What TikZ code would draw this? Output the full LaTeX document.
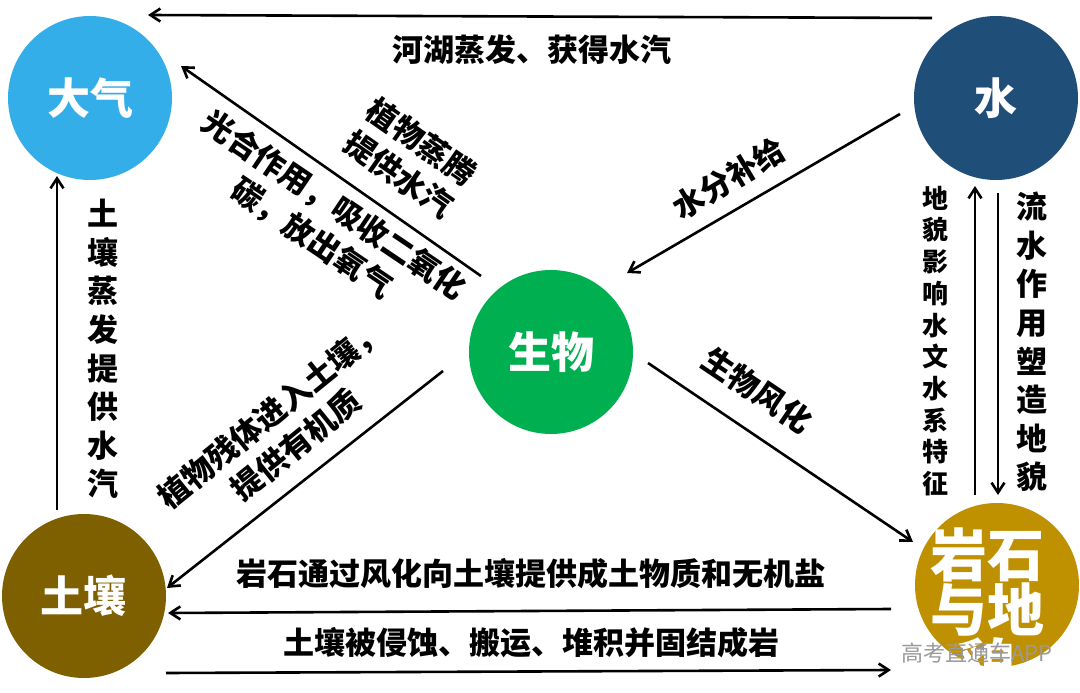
\documentclass[tikz,border=0pt]{standalone}
\usepackage{fontspec}
\setmainfont{Noto Sans CJK SC}
\usetikzlibrary{arrows.meta}
\definecolor{atmc}{HTML}{33AEE8}
\definecolor{watc}{HTML}{1F4E79}
\definecolor{bioc}{HTML}{00B050}
\definecolor{soilc}{HTML}{7F6000}
\definecolor{rockc}{HTML}{BF9000}
\definecolor{wmc}{HTML}{9A9A9A}
\begin{document}
\begin{tikzpicture}[x=1pt,y=-1pt,
  circ/.style={circle,minimum size=164pt,inner sep=0pt,text=white,font=\bfseries\fontsize{43}{50}\selectfont},
  arr/.style={line width=2.6pt,-{Straight Barb[length=10pt,width=13pt]}},
  lbl/.style={font=\bfseries\fontsize{31}{40}\selectfont,inner sep=0pt,align=center},
  vlbl/.style={font=\bfseries\fontsize{31}{38.6}\selectfont,inner sep=0pt,align=center},
  vlbls/.style={font=\bfseries\fontsize{26}{31.7}\selectfont,inner sep=0pt,align=center},
  wm/.style={font=\fontsize{22}{24}\selectfont,text=wmc,inner sep=0pt}]
\useasboundingbox (0,0) rectangle (1080,693);
\fill[white] (0,0) rectangle (1080,693);

% circles
\node[circ,fill=atmc] (atm) at (90,98) {大气};
\node[circ,fill=watc] (wat) at (996,98) {水};
\node[circ,fill=bioc] (bio) at (551,352) {生物};
\node[circ,fill=soilc] (soil) at (84,596) {土壤};
\node[circ,fill=rockc] (rock) at (997,585) {};
\node[font=\bfseries\fontsize{57}{53}\selectfont,text=white,align=center,inner sep=0pt] (rockt) at (987,610) {岩石\\与地\\貌};

% connector end points
\coordinate (a1s) at (932,18);   \coordinate (a1e) at (148,15);
\coordinate (a2s) at (481,276);  \coordinate (a2e) at (181,66);
\coordinate (a3s) at (900,114);  \coordinate (a3e) at (627,273);
\coordinate (a4s) at (648,363);  \coordinate (a4e) at (913,542);
\coordinate (a5s) at (443,371);  \coordinate (a5e) at (167,588);
\coordinate (a6s) at (57,510);   \coordinate (a6e) at (57,176);
\coordinate (a7s) at (975,495);  \coordinate (a7e) at (975,186);
\coordinate (a8s) at (998,193);  \coordinate (a8e) at (998,495);
\coordinate (a9s) at (891,609);  \coordinate (a9e) at (168,613);
\coordinate (a10s) at (166,673); \coordinate (a10e) at (891,670);

\draw[arr] (a1s) -- (a1e);
\draw[arr] (a2s) -- (a2e);
\draw[arr] (a3s) -- (a3e);
\draw[arr] (a4s) -- (a4e);
\draw[arr] (a5s) -- (a5e);
\draw[arr] (a6s) -- (a6e);
\draw[arr] (a7s) -- (a7e);
\draw[arr] (a8s) -- (a8e);
\draw[arr] (a9s) -- (a9e);
\draw[arr] (a10s) -- (a10e);

% labels
\node[lbl] (l1) at (532,50) {河湖蒸发、获得水汽};
\node[lbl,rotate=-35] (l2) at (410,158) {植物蒸腾\\提供水汽};
\node[lbl,rotate=-34] (l3) at (323,222) {光合作用，吸收二氧化\\碳，放出氧气};
\node[lbl,rotate=31] (l4) at (729,178) {水分补给};
\node[lbl,rotate=-34] (l5) at (757,390) {生物风化};
\node[lbl,rotate=39] (l6) at (283,429) {植物残体进入土壤，\\提供有机质};
\node[vlbl] (l7) at (103,349) {土\\壤\\蒸\\发\\提\\供\\水\\汽};
\node[vlbls] (l8) at (935,341) {地\\貌\\影\\响\\水\\文\\水\\系\\特\\征};
\node[vlbl] (l9) at (1032,342) {流\\水\\作\\用\\塑\\造\\地\\貌};
\node[lbl] (l10) at (531,574) {岩石通过风化向土壤提供成土物质和无机盐};
\node[lbl] (l11) at (531,643) {土壤被侵蚀、搬运、堆积并固结成岩};

\node[wm] (wmk) at (977,653) {高考直通车APP};
\end{tikzpicture}
\end{document}
